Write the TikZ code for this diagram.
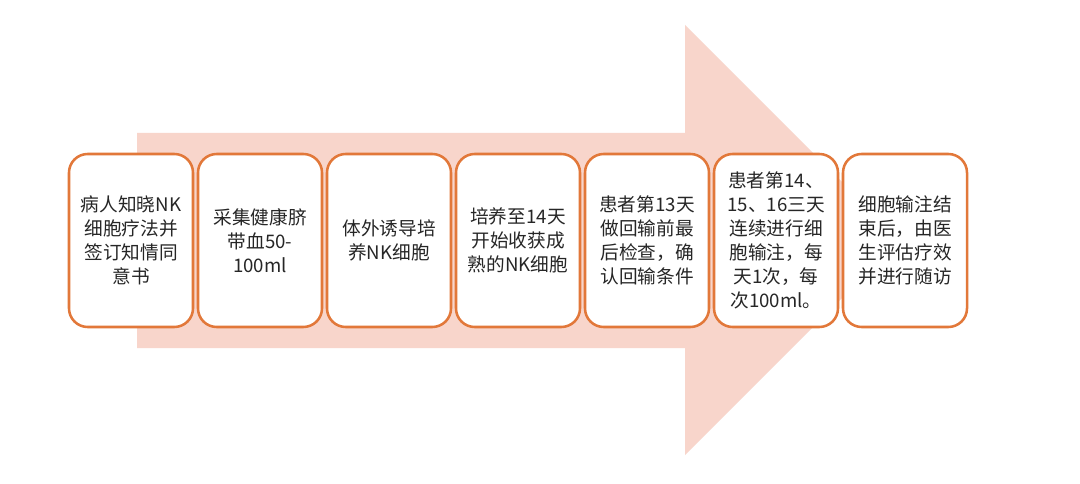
\documentclass[tikz,border=0pt]{standalone}
\usepackage{fontspec}
\newfontfamily\cjk{Noto Sans CJK SC}
\definecolor{arrowfill}{HTML}{F8D5CB}
\definecolor{boxline}{HTML}{E2783A}
\definecolor{txt}{HTML}{262626}
\begin{document}
\begin{tikzpicture}[x=0.75pt,y=-0.75pt,
  stepbox/.style={draw=boxline,line width=1.9pt,fill=white,rounded corners=14pt,
    minimum width=124*0.75pt,minimum height=173*0.75pt,inner sep=0pt,
    align=center,text=txt,font=\cjk\fontsize{14pt}{18pt}\selectfont}]
\useasboundingbox (0,0) rectangle (1080,484);
\fill[white] (0,0) rectangle (1080,484);
\fill[arrowfill] (137,133) -- (685,133) -- (685,25) -- (900,240) -- (685,455) -- (685,348) -- (137,348) -- cycle;
\node[stepbox] (s1) at (131,240.5) {病人知晓NK\\细胞疗法并\\签订知情同\\意书};
\node[stepbox] (s2) at (260,240.5) {采集健康脐\\带血50-\\100ml};
\node[stepbox] (s3) at (389,240.5) {体外诱导培\\养NK细胞};
\node[stepbox] (s4) at (518,240.5) {培养至14天\\开始收获成\\熟的NK细胞};
\node[stepbox] (s5) at (647,240.5) {患者第13天\\做回输前最\\后检查，确\\认回输条件};
\node[stepbox] (s6) at (776,240.5) {患者第14、\\15、16三天\\连续进行细\\胞输注，每\\天1次，每\\次100ml。};
\node[stepbox] (s7) at (905,240.5) {细胞输注结\\束后，由医\\生评估疗效\\并进行随访};
\end{tikzpicture}
\end{document}
